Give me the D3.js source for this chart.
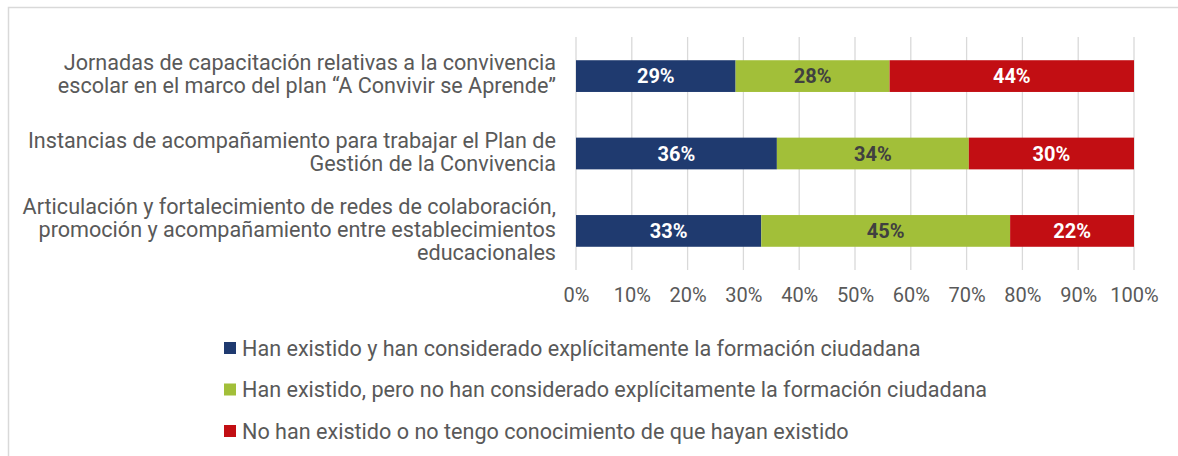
<!DOCTYPE html>
<html>
<head>
<meta charset="utf-8">
<script src="https://cdn.jsdelivr.net/npm/d3@7"></script>
<style>
  body { margin: 0; background: #fff; }
  svg { display: block; font-family: Roboto, "Noto Sans", sans-serif; }
</style>
</head>
<body>
<svg width="1178" height="456"></svg>
<script>
var svg = d3.select("svg");

// data
var categories = [
  ["Jornadas de capacitación relativas a la convivencia", "escolar en el marco del plan “A Convivir se Aprende”"],
  ["Instancias de acompañamiento para trabajar el Plan de", "Gestión de la Convivencia"],
  ["Articulación y fortalecimiento de redes de colaboración,", "promoción y acompañamiento entre establecimientos", "educacionales"]
];
var seriesNames = [
  "Han existido y han considerado explícitamente la formación ciudadana",
  "Han existido, pero no han considerado explícitamente la formación ciudadana",
  "No han existido o no tengo conocimiento de que hayan existido"
];
var considered    = [0.286, 0.360, 0.332];
var notConsidered = [0.276, 0.344, 0.446];
var notExisted    = [0.438, 0.296, 0.222];
var ticks = [0, 0.1, 0.2, 0.3, 0.4, 0.5, 0.6, 0.7, 0.8, 0.9, 1];

var colors = ["#1f3a6f", "#a2bf39", "#c20e13"];
var labelColors = ["#ffffff", "#404040", "#ffffff"];

// frame
svg.append("path")
    .attr("d", "M8.5,456V7.5H1178")
    .attr("fill", "none")
    .attr("stroke", "#d9d9d9")
    .attr("stroke-width", 1.5);

var x = d3.scaleLinear().domain([0, 1]).range([576, 1134]);
var y = d3.scaleBand()
    .domain(d3.range(categories.length))
    .range([37, 270])
    .paddingInner(0.59)
    .paddingOuter(0.3);

// gridlines
svg.append("g")
  .selectAll("line")
  .data(ticks)
  .enter()
  .append("line")
    .attr("x1", function(d) { return x(d); })
    .attr("x2", function(d) { return x(d); })
    .attr("y1", 37)
    .attr("y2", 270)
    .attr("stroke", "#d9d9d9")
    .attr("stroke-width", 1.3);

// x axis labels
var xAxis = svg.append("g")
    .attr("transform", "translate(0,285)")
    .call(d3.axisBottom(x).tickValues(ticks).tickFormat(d3.format(".0%")).tickSize(0));
xAxis.select(".domain").remove();
xAxis.selectAll("text")
    .attr("font-family", "Roboto")
    .attr("font-size", 20)
    .attr("fill", "#595959");

// stack the series
var rows = categories.map(function(c, i) {
  return { i: i, a: considered[i], b: notConsidered[i], c: notExisted[i] };
});
var stack = d3.stack().keys(["a", "b", "c"]);
var layers = stack(rows);

var fmt = d3.format(".0%");

layers.forEach(function(layer, k) {
  var g = svg.append("g");
  g.selectAll("rect")
    .data(layer)
    .enter()
    .append("rect")
      .attr("x", function(d) { return x(d[0]); })
      .attr("width", function(d) { return x(d[1]) - x(d[0]); })
      .attr("y", function(d) { return y(d.data.i); })
      .attr("height", y.bandwidth())
      .attr("fill", colors[k]);
  g.selectAll("text")
    .data(layer)
    .enter()
    .append("text")
      .attr("x", function(d) { return (x(d[0]) + x(d[1])) / 2; })
      .attr("y", function(d) { return y(d.data.i) + y.bandwidth() / 2; })
      .attr("dy", "0.36em")
      .attr("text-anchor", "middle")
      .attr("font-size", 20)
      .attr("font-weight", "bold")
      .attr("fill", labelColors[k])
      .text(function(d) { return fmt(d[1] - d[0]); });
});

// category labels
var lineH = 23;
svg.append("g")
  .selectAll("text")
  .data(categories)
  .enter()
  .append("text")
    .attr("text-anchor", "end")
    .attr("font-size", 21.6)
    .attr("fill", "#595959")
    .attr("transform", function(d, i) {
      var cy = y(i) + y.bandwidth() / 2 - (d.length - 1) * lineH / 2 - 2;
      return "translate(556," + cy + ")";
    })
  .selectAll("tspan")
  .data(function(d) { return d; })
  .enter()
  .append("tspan")
    .attr("x", 0)
    .attr("y", function(d, j) { return j * lineH; })
    .attr("dy", "0.36em")
    .text(function(d) { return d; });

// legend
var legend = svg.append("g")
  .selectAll("g")
  .data(seriesNames)
  .enter()
  .append("g")
    .attr("transform", function(d, i) { return "translate(224," + (348 + i * 41.5) + ")"; });
legend.append("rect")
    .attr("y", -6)
    .attr("width", 12)
    .attr("height", 12)
    .attr("fill", function(d, i) { return colors[i]; });
legend.append("text")
    .attr("x", 18)
    .attr("dy", "0.36em")
    .attr("font-size", 21.6)
    .attr("fill", "#595959")
    .text(function(d) { return d; });
</script>
</body>
</html>
